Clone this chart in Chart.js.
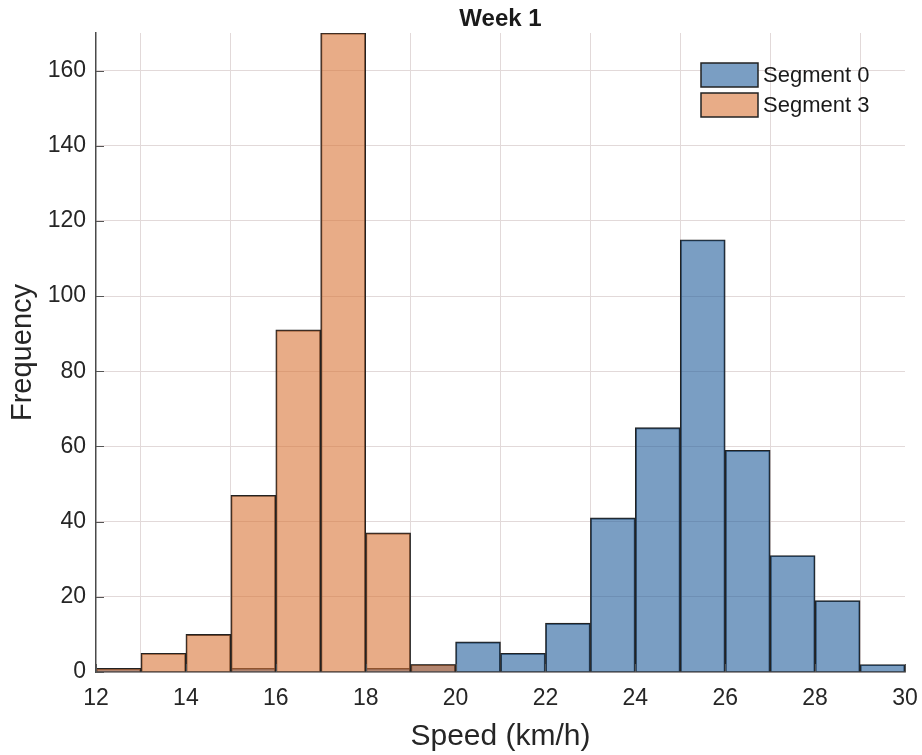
<!DOCTYPE html>
<html>
<head>
<meta charset="utf-8">
<script src="https://cdn.jsdelivr.net/npm/chart.js@4.4.1/dist/chart.umd.min.js"></script>
<style>
  html, body { margin: 0; padding: 0; background: #fff; }
  #wrap { width: 922px; height: 755px; position: relative; }
</style>
</head>
<body>
<div id="wrap"><canvas id="speedHist"></canvas></div>
<script>
  // bin left edges (km/h), width 1
  const binStarts = [12, 13, 14, 15, 16, 17, 18, 19, 20, 21, 22, 23, 24, 25, 26, 27, 28, 29];
  const segment0 = [1, 0, 0, 1, 0, 0, 1, 2, 8, 5, 13, 41, 65, 115, 59, 31, 19, 2];
  const segment3 = [1, 5, 10, 47, 91, 170, 37, 2, 0, 0, 0, 0, 0, 0, 0, 0, 0, 0];
  const xTicks = [12, 14, 16, 18, 20, 22, 24, 26, 28, 30];
  const yTicks = [0, 20, 40, 60, 80, 100, 120, 140, 160];
  const seriesNames = ['Segment 0', 'Segment 3'];

  const FONT = '"Liberation Sans", Arial, Helvetica, sans-serif';
  const blueFill = 'rgba(33, 93, 155, 0.6)';
  const orangeFill = 'rgba(217, 117, 55, 0.6)';
  const edge = '#222222';

  function toPoints(values) {
    return binStarts.map((s, i) => ({ x: s + 0.5, y: values[i] })).filter(p => p.y > 0);
  }

  // title, inward tick marks and the legend box
  const decorations = {
    id: 'decorations',
    afterDraw(chart) {
      const { ctx, chartArea, scales } = chart;
      ctx.save();
      ctx.fillStyle = '#1a1a1a';
      ctx.font = 'bold 24px ' + FONT;
      ctx.textAlign = 'center';
      ctx.textBaseline = 'middle';
      ctx.fillText('Week 1', (chartArea.left + chartArea.right) / 2, 19);

      ctx.strokeStyle = '#555';
      ctx.lineWidth = 1;
      yTicks.forEach(v => {
        const y = Math.round(scales.y.getPixelForValue(v)) + 0.5;
        ctx.beginPath();
        ctx.moveTo(chartArea.left, y);
        ctx.lineTo(chartArea.left + 8, y);
        ctx.stroke();
      });
      xTicks.forEach(v => {
        const x = Math.round(scales.x.getPixelForValue(v)) + 0.5;
        ctx.beginPath();
        ctx.moveTo(x, chartArea.bottom);
        ctx.lineTo(x, chartArea.bottom - 8);
        ctx.stroke();
      });

      const fills = [blueFill, orangeFill];
      const lx = 701, ly = 63, bw = 57, bh = 24, gap = 30;
      ctx.textAlign = 'left';
      ctx.font = '22px ' + FONT;
      seriesNames.forEach((name, i) => {
        const y = ly + i * gap;
        ctx.fillStyle = '#fff';
        ctx.fillRect(lx, y, bw, bh);
        ctx.fillStyle = fills[i];
        ctx.fillRect(lx, y, bw, bh);
        ctx.strokeStyle = edge;
        ctx.lineWidth = 1.5;
        ctx.strokeRect(lx, y, bw, bh);
        ctx.fillStyle = '#1a1a1a';
        ctx.fillText(name, lx + bw + 5, y + bh / 2 + 1);
      });
      ctx.restore();
    }
  };

  new Chart(document.getElementById('speedHist'), {
    type: 'bar',
    data: {
      datasets: [
        {
          label: seriesNames[0],
          data: toPoints(segment0),
          backgroundColor: blueFill,
          borderColor: edge,
          borderWidth: 1.2,
          barPercentage: 1,
          categoryPercentage: 1,
          grouped: false,
          order: 2
        },
        {
          label: seriesNames[1],
          data: toPoints(segment3),
          backgroundColor: orangeFill,
          borderColor: edge,
          borderWidth: 1.2,
          barPercentage: 1,
          categoryPercentage: 1,
          grouped: false,
          order: 1
        }
      ]
    },
    options: {
      responsive: true,
      maintainAspectRatio: false,
      animation: false,
      layout: { padding: { top: 33, right: 17, left: 0, bottom: 0 } },
      plugins: {
        legend: { display: false },
        title: { display: false },
        tooltip: { enabled: false }
      },
      scales: {
        x: {
          type: 'linear',
          min: 12,
          max: 30,
          offset: false,
          afterBuildTicks: s => { s.ticks = xTicks.map(v => ({ value: v })); },
          afterFit: s => { s.height = 83; s.paddingLeft = 0; s.paddingRight = 0; },
          ticks: { color: '#262626', font: { family: FONT, size: 23 }, padding: 13, maxRotation: 0 },
          grid: { color: '#e2d9d9', lineWidth: 1, drawTicks: false },
          border: { color: '#4a4a4a', width: 1.5 },
          title: { display: true, text: 'Speed (km/h)', color: '#262626', font: { family: FONT, size: 30 }, padding: { top: 4, bottom: 0 } }
        },
        y: {
          min: 0,
          max: 170,
          afterBuildTicks: s => { s.ticks = yTicks.map(v => ({ value: v })); },
          afterFit: s => { s.width = 96; s.paddingTop = 0; s.paddingBottom = 0; },
          ticks: { color: '#262626', font: { family: FONT, size: 23 }, padding: 10 },
          grid: { color: '#e2d9d9', lineWidth: 1, drawTicks: false },
          border: { color: '#4a4a4a', width: 1.5 },
          title: { display: true, text: 'Frequency', color: '#262626', font: { family: FONT, size: 29 }, padding: { top: 6, bottom: 0 } }
        }
      }
    },
    plugins: [decorations]
  });
</script>
</body>
</html>
